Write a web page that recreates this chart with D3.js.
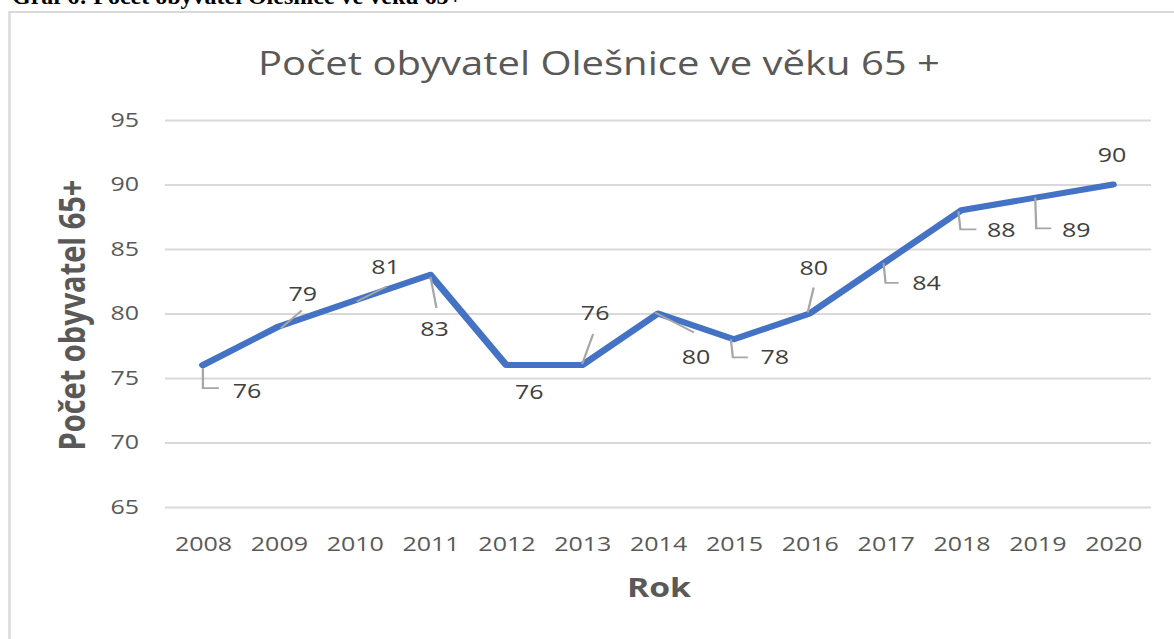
<!DOCTYPE html>
<html>
<head>
<meta charset="utf-8">
<script src="https://cdn.jsdelivr.net/npm/d3@7"></script>
<style>
  html, body { margin: 0; padding: 0; background: #fff; overflow: hidden; }
  #wrap { position: relative; width: 1174px; height: 639px; }
  #wrap svg { position: absolute; left: 0; top: 0; }
</style>
</head>
<body>
<div id="wrap"></div>
<script>
// Data
const years = ['2008', '2009', '2010', '2011', '2012', '2013', '2014', '2015', '2016', '2017', '2018', '2019', '2020'];
const seniors = [76, 79, 81, 83, 76, 76, 80, 78, 80, 84, 88, 89, 90];
const yTicks = [65, 70, 75, 80, 85, 90, 95];

const caption = 'Graf 6: Počet obyvatel Olešnice ve věku 65+';
const chartTitle = 'Počet obyvatel Olešnice ve věku 65 +';
const xTitle = 'Rok';
const yTitle = 'Počet obyvatel 65+';

// Label placement (screen px, relative to point): label centre + leader line
const labelLayout = [
    { dx: 44, dy: 26, leader: [[0, 3], [0, 23], [16, 23]] },
    { dx: 24, dy: -33, leader: [[2, 2], [23, -16]] },
    { dx: 31, dy: -34, leader: [[2, 1], [32, -14]] },
    { dx: 4, dy: 54, leader: [[0, 2], [6, 33]] },
    { dx: 23, dy: 27, leader: null },
    { dx: 13, dy: -52, leader: [[0, -1], [11, -31]] },
    { dx: 38, dy: 43, leader: [[-3, -1], [36, 19]] },
    { dx: 41, dy: 18, leader: [[-3, 0], [-1, 18], [14, 18]] },
    { dx: 4, dy: -46, leader: [[-2, -1], [4, -26]] },
    { dx: 41, dy: 21, leader: [[-2, 1], [0, 21], [13, 21]] },
    { dx: 40, dy: 20, leader: [[-3, 1], [-1, 19], [15, 19]] },
    { dx: 39, dy: 32, leader: [[-2, 0], [-1, 31], [14, 31]] },
    { dx: -1, dy: -30, leader: null }
];

// The chart picture is stretched horizontally
const W = 1174, H = 639;
const s = 1.25;
const sx = px => px / s;

const font = "'Open Sans', sans-serif";

// Caption (not stretched)
const capSvg = d3.select('#wrap').append('svg')
    .attr('width', W)
    .attr('height', H);

// Chart svg (stretched via viewBox)
const svg = d3.select('#wrap').append('svg')
    .attr('width', W)
    .attr('height', H)
    .attr('viewBox', `0 0 ${W / s} ${H}`)
    .attr('preserveAspectRatio', 'none');

capSvg.raise();

// Outer chart border
svg.append('rect')
    .attr('x', sx(9.5))
    .attr('y', 12)
    .attr('width', W)
    .attr('height', H)
    .attr('fill', 'none')
    .attr('stroke', '#d9d9d9')
    .attr('stroke-width', 2);

capSvg.append('text')
    .attr('x', 12)
    .attr('y', 4)
    .attr('font-family', "'Liberation Serif', 'Times New Roman', serif")
    .attr('font-weight', 'bold')
    .attr('font-size', 24)
    .attr('fill', '#000')
    .text(caption);

// Scales
const xScale = d3.scalePoint()
    .domain(years)
    .range([sx(165), sx(1151)])
    .padding(0.5);

const yScale = d3.scaleLinear()
    .domain([65, 95])
    .range([507, 120]);

// Y axis with gridlines
const yAxis = d3.axisLeft(yScale)
    .tickValues(yTicks)
    .tickSize(-(sx(1151) - sx(165)))
    .tickPadding(sx(26));

const gy = svg.append('g')
    .attr('transform', `translate(${sx(165)},0)`)
    .call(yAxis);
gy.select('.domain').remove();
gy.selectAll('.tick line')
    .attr('stroke', '#d9d9d9')
    .attr('stroke-width', 1.8);
gy.selectAll('.tick text')
    .attr('font-family', font)
    .attr('font-size', 20)
    .attr('fill', '#595959');

// X axis
const xAxis = d3.axisBottom(xScale)
    .tickSize(0)
    .tickPadding(30);

const gx = svg.append('g')
    .attr('transform', 'translate(0,507)')
    .call(xAxis);
gx.select('.domain').remove();
gx.selectAll('.tick text')
    .attr('font-family', font)
    .attr('font-size', 20)
    .attr('fill', '#595959');

// Line
const line = d3.line()
    .x((d, i) => xScale(years[i]))
    .y(d => yScale(d));

svg.append('path')
    .datum(seniors)
    .attr('d', line)
    .attr('fill', 'none')
    .attr('stroke', '#4472c4')
    .attr('stroke-width', 6)
    .attr('stroke-linejoin', 'round')
    .attr('stroke-linecap', 'round');

// Leader lines
const leaderLine = d3.line();
svg.append('g')
    .selectAll('path')
    .data(seniors.map((v, i) => ({ v, i, lay: labelLayout[i] })).filter(d => d.lay.leader))
    .enter()
    .append('path')
    .attr('d', d => {
        const px = xScale(years[d.i]);
        const py = yScale(d.v);
        return leaderLine(d.lay.leader.map(p => [px + sx(p[0]), py + p[1]]));
    })
    .attr('fill', 'none')
    .attr('stroke', '#a6a6a6')
    .attr('stroke-width', 1.8);

// Data labels
svg.append('g')
    .selectAll('text')
    .data(seniors)
    .enter()
    .append('text')
    .attr('x', (d, i) => xScale(years[i]) + sx(labelLayout[i].dx))
    .attr('y', (d, i) => yScale(d) + labelLayout[i].dy)
    .attr('dy', '0.36em')
    .attr('text-anchor', 'middle')
    .attr('font-family', font)
    .attr('font-size', 20)
    .attr('fill', '#404040')
    .text(d => d);

// Chart title
svg.append('text')
    .attr('x', sx(599))
    .attr('y', 75)
    .attr('text-anchor', 'middle')
    .attr('font-family', font)
    .attr('font-size', 32)
    .attr('fill', '#595959')
    .text(chartTitle);

// Axis titles
svg.append('text')
    .attr('x', sx(659))
    .attr('y', 597)
    .attr('text-anchor', 'middle')
    .attr('font-family', font)
    .attr('font-weight', 'bold')
    .attr('font-size', 27)
    .attr('fill', '#595959')
    .text(xTitle);

svg.append('text')
    .attr('transform', `translate(${sx(85)},315) rotate(-90)`)
    .attr('text-anchor', 'middle')
    .attr('font-family', font)
    .attr('font-weight', 'bold')
    .attr('font-size', 29)
    .attr('fill', '#595959')
    .text(yTitle);
</script>
</body>
</html>
